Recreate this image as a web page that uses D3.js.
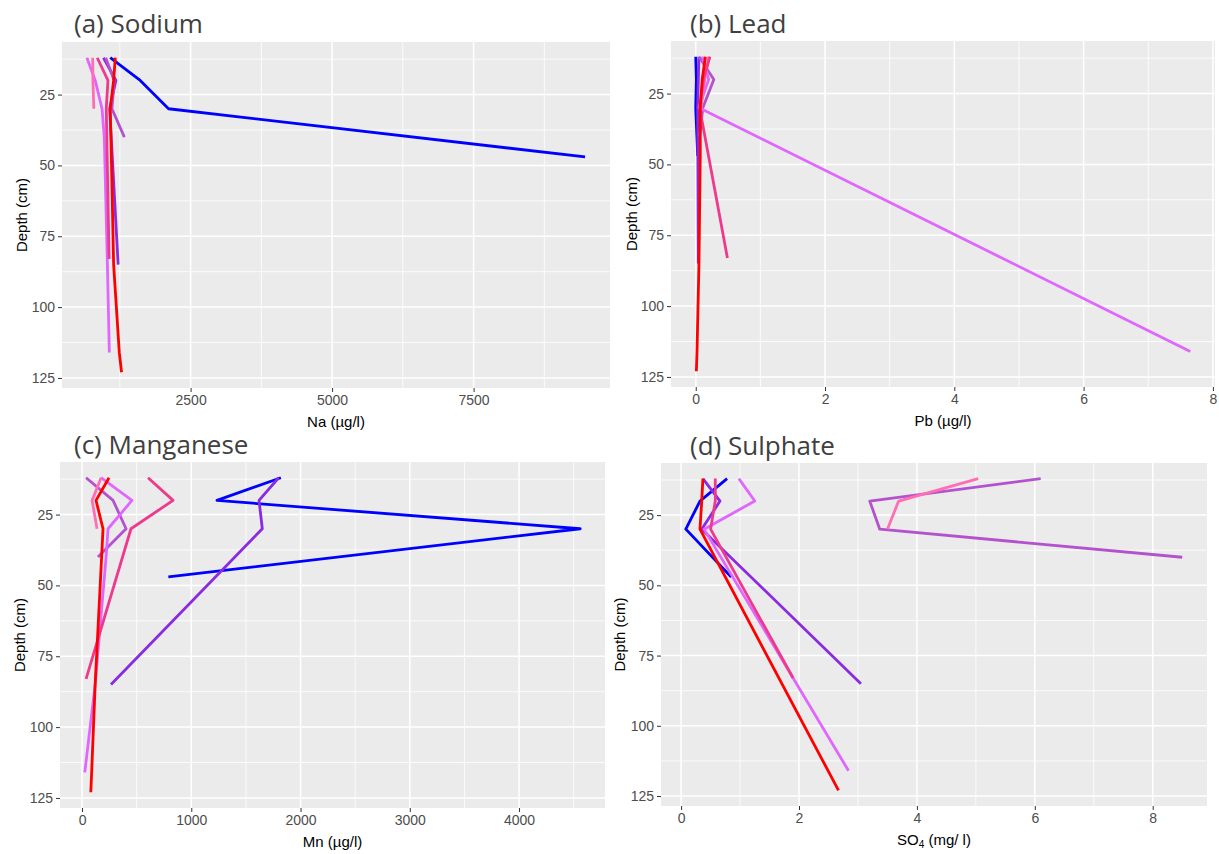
<!DOCTYPE html>
<html>
<head>
<meta charset="utf-8">
<script src="https://cdn.jsdelivr.net/npm/d3@7"></script>
<style>
  body { margin: 0; background: #ffffff; }
  svg { display: block; }
</style>
</head>
<body>
<svg id="chart" width="1219" height="854"></svg>
<script>
// Sampling profiles (one list per site, in drawing order)
const sites = ["S1", "S2", "S3", "S4", "S5", "S6", "S7"];
const siteColours = ["#0000FF", "#8A2BE2", "#B452CD", "#E066FF", "#FF6EB4", "#EE3A8C", "#FF0000"];

// Sampling depths (cm) for each site
const depths = [
  [12, 20, 30, 47],
  [12, 20, 30, 85],
  [12, 20, 30, 40],
  [12, 20, 30, 40, 85, 116],
  [12, 20, 30],
  [12, 20, 30, 83],
  [12, 20, 30, 47, 85, 116, 123]
];

// Na (µg/l)
const sodium = [
  [1080, 1610, 2110, 9470],
  [960, 1180, 1070, 1220],
  [1000, 1150, 1110, 1330],
  [668, 815, 935, 975, 1030, 1064],
  [770, 775, 790],
  [850, 1040, 1010, 1060],
  [1170, 1140, 1080, 1100, 1140, 1240, 1280]
];

// Pb (µg/l)
const lead = [
  [0.0, 0.01, 0.0, 0.03],
  [0.05, 0.04, 0.03, 0.04],
  [0.05, 0.28, 0.11, 0.06],
  [0.1, 0.2, 0.05, null, null, 7.65],
  [0.2, 0.14, 0.08],
  [0.22, 0.12, 0.06, 0.49],
  [0.15, 0.1, 0.07, 0.07, 0.05, 0.02, 0.01]
];

// Mn (µg/l)
const manganese = [
  [1820, 1235, 4560, 790],
  [1800, 1620, 1650, 265],
  [37, 284, 403, 146],
  [174, 457, 238, 220, 120, 25],
  [174, 92, 137],
  [604, 833, 448, 37],
  [247, 128, 192, 170, 120, 88, 80]
];

// SO4 (mg/l)
const sulphate = [
  [0.78, 0.32, 0.08, 0.85],
  [0.37, 0.66, 0.35, 3.05],
  [6.1, 3.2, 3.37, 8.5],
  [0.98, 1.25, 0.39, null, null, 2.84],
  [5.04, 3.69, 3.5],
  [0.58, 0.58, 0.5, 1.9],
  [0.37, 0.35, 0.32, null, null, null, 2.67]
];

// Axis breaks
const depthTicks = [25, 50, 75, 100, 125];
const sodiumTicks = [2500, 5000, 7500];
const leadTicks = [0, 2, 4, 6, 8];
const manganeseTicks = [0, 1000, 2000, 3000, 4000];
const sulphateTicks = [0, 2, 4, 6, 8];

const panels = [
  { title: "(a) Sodium", values: sodium, ticks: sodiumTicks, xLabel: [["Na (µg/l)"]],
    box: { x0: 62, x1: 610, y0: 42, y1: 388 }, titlePos: [74, 33], yTitleX: 22 },
  { title: "(b) Lead", values: lead, ticks: leadTicks, xLabel: [["Pb (µg/l)"]],
    box: { x0: 671, x1: 1215, y0: 41, y1: 387 }, titlePos: [690, 33], yTitleX: 632 },
  { title: "(c) Manganese", values: manganese, ticks: manganeseTicks, xLabel: [["Mn (µg/l)"]],
    box: { x0: 60, x1: 605, y0: 462, y1: 808 }, titlePos: [74, 454], yTitleX: 20 },
  { title: "(d) Sulphate", values: sulphate, ticks: sulphateTicks, xLabel: [["SO"], ["4", "sub"], [" (mg/ l)"]],
    box: { x0: 661, x1: 1207, y0: 463, y1: 806 }, titlePos: [690, 455], yTitleX: 620 }
];

const svg = d3.select("#chart");
const tickFont = "'Liberation Sans', Arial, sans-serif";

// ggplot-style 5% expansion of a continuous range
function expand([lo, hi]) {
  const pad = (hi - lo) * 0.05;
  return [lo - pad, hi + pad];
}

function minorBreaks(major, domain) {
  const step = major[1] - major[0];
  const out = [];
  for (let v = major[0] - step / 2; v <= major[major.length - 1] + step / 2 + 1e-9; v += step) {
    if (v >= domain[0] && v <= domain[1]) out.push(v);
  }
  return out;
}

const allDepths = depths.flat();
const yDomain = expand(d3.extent(allDepths));

panels.forEach(p => {
  const b = p.box;
  const series = sites.map((s, i) => ({
    site: s,
    colour: siteColours[i],
    points: depths[i].map((d, j) => ({ depth: d, v: p.values[i][j] })).filter(d => d.v !== null)
  }));
  const xDomain = expand(d3.extent(series.flatMap(s => s.points.map(d => d.v))));
  const x = d3.scaleLinear().domain(xDomain).range([b.x0, b.x1]);
  const y = d3.scaleLinear().domain(yDomain).range([b.y0, b.y1]);

  const g = svg.append("g");

  // panel background
  g.append("rect")
    .attr("x", b.x0).attr("y", b.y0)
    .attr("width", b.x1 - b.x0).attr("height", b.y1 - b.y0)
    .attr("fill", "#EBEBEB");

  // grid
  const xMajor = p.ticks.filter(v => v >= xDomain[0] && v <= xDomain[1]);
  const yMajor = depthTicks.filter(v => v >= yDomain[0] && v <= yDomain[1]);
  const grid = g.append("g").attr("stroke", "#FFFFFF").attr("fill", "none");
  minorBreaks(p.ticks, xDomain).forEach(v => grid.append("line")
    .attr("x1", x(v)).attr("x2", x(v)).attr("y1", b.y0).attr("y2", b.y1).attr("stroke-width", 0.8));
  minorBreaks(depthTicks, yDomain).forEach(v => grid.append("line")
    .attr("y1", y(v)).attr("y2", y(v)).attr("x1", b.x0).attr("x2", b.x1).attr("stroke-width", 0.8));
  xMajor.forEach(v => grid.append("line")
    .attr("x1", x(v)).attr("x2", x(v)).attr("y1", b.y0).attr("y2", b.y1).attr("stroke-width", 1.5));
  yMajor.forEach(v => grid.append("line")
    .attr("y1", y(v)).attr("y2", y(v)).attr("x1", b.x0).attr("x2", b.x1).attr("stroke-width", 1.5));

  // profile lines
  const line = d3.line().x(d => x(d.v)).y(d => y(d.depth));
  g.append("g").selectAll("path").data(series).join("path")
    .attr("d", s => line(s.points))
    .attr("fill", "none")
    .attr("stroke", s => s.colour)
    .attr("stroke-width", 2.8)
    .attr("stroke-linejoin", "round");

  // axes
  const xAxis = d3.axisBottom(x).tickValues(xMajor).tickSize(4).tickPadding(3).tickFormat(d3.format("d"));
  const yAxis = d3.axisLeft(y).tickValues(yMajor).tickSize(4).tickPadding(3).tickFormat(d3.format("d"));
  [[xAxis, `translate(0,${b.y1})`], [yAxis, `translate(${b.x0},0)`]].forEach(([ax, tr]) => {
    const a = g.append("g").attr("transform", tr).call(ax);
    a.select(".domain").remove();
    a.selectAll(".tick line").attr("stroke", "#333333").attr("stroke-width", 1);
    a.selectAll(".tick text").attr("fill", "#4D4D4D")
      .style("font-family", tickFont).style("font-size", "14px");
  });

  // panel title
  g.append("text")
    .attr("x", p.titlePos[0]).attr("y", p.titlePos[1])
    .attr("fill", "#404040")
    .style("font-family", "'Open Sans', sans-serif").style("font-size", "26px")
    .text(p.title);

  // x-axis title
  const xt = g.append("text")
    .attr("x", (b.x0 + b.x1) / 2).attr("y", b.y1 + 39)
    .attr("text-anchor", "middle").attr("fill", "#000000")
    .style("font-family", tickFont).style("font-size", "15px");
  p.xLabel.forEach(([txt, kind]) => {
    const t = xt.append("tspan").text(txt);
    if (kind === "sub") t.attr("baseline-shift", "-25%").style("font-size", "10px");
  });

  // y-axis title
  g.append("text")
    .attr("transform", `translate(${p.yTitleX},${(b.y0 + b.y1) / 2}) rotate(-90)`)
    .attr("text-anchor", "middle").attr("dy", "0.35em").attr("fill", "#000000")
    .style("font-family", tickFont).style("font-size", "15px")
    .text("Depth (cm)");
});
</script>
</body>
</html>
